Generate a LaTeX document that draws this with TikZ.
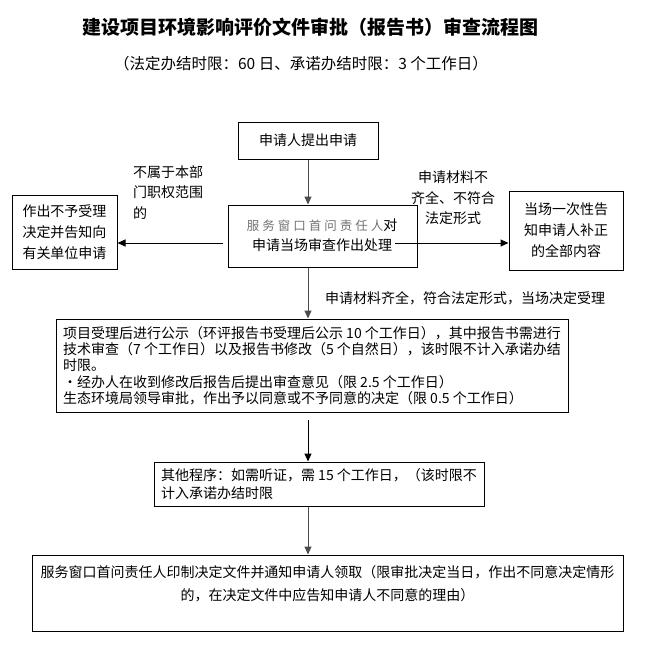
\documentclass[tikz,border=0pt]{standalone}
\usepackage{fontspec}
\setmainfont{Noto Sans CJK SC}
\newfontfamily\spacedfont[LetterSpace=24]{Noto Sans CJK SC}
\usetikzlibrary{arrows.meta}
\begin{document}
\begin{tikzpicture}[x=1pt,y=-1pt,
  box/.style={draw=black, line width=1pt, inner sep=0pt, font=\fontsize{14}{20}\selectfont},
  lbl/.style={inner sep=0pt, font=\fontsize{14}{20.5}\selectfont},
  arr/.style={line width=1pt, -{Triangle[length=8pt,width=7pt]}},
  garr/.style={arr, draw=black!70}]
\fill[white] (0,0) rectangle (647,648);
\useasboundingbox (0,0) rectangle (647,648);

\node[inner sep=0pt, font=\fontsize{19}{19}\selectfont\bfseries] (title) at (310,27) {建设项目环境影响评价文件审批（报告书）审查流程图};
\node[inner sep=0pt, font=\fontsize{15.5}{15.5}\selectfont] (sub) at (301,64) {（法定办结时限：60 日、承诺办结时限：3 个工作日）};

\node[box, minimum width=140pt, minimum height=37pt] (b1) at (308,140.5) {申请人提出申请};

\node[box, minimum width=189pt, minimum height=62pt] (b2) at (322.5,236) {};
\node[lbl, align=center, font=\fontsize{14}{20}\selectfont] (b2t) at (322,235) {{\spacedfont\fontsize{12.5}{20}\selectfont\color{black!55}服务窗口首问责任人}对\\申请当场审查作出处理};

\node[box, minimum width=105pt, minimum height=74pt, align=left, font=\fontsize{14}{21}\selectfont] (lb) at (64.5,232) {作出不予受理\\决定并告知向\\有关单位申请};
\node[box, minimum width=114pt, minimum height=79pt, align=center, font=\fontsize{14}{21}\selectfont] (rb) at (566,230.5) {当场一次性告\\知申请人补正\\的全部内容};

\node[lbl, align=left, anchor=west] (ll) at (133,192.5) {不属于本部\\门职权范围\\的};
\node[lbl, align=center] (rl) at (453,198) {申请材料不\\齐全、不符合\\法定形式};
\node[lbl, anchor=west] (al) at (325,298) {申请材料齐全，符合法定形式，当场决定受理};

\node[box, minimum width=512pt, minimum height=93pt, align=left, font=\fontsize{14}{16.3}\selectfont] (b3) at (312,365.5) {项目受理后进行公示（环评报告书受理后公示 10 个工作日），其中报告书需进行\\技术审查（7 个工作日）以及报告书修改（5 个自然日），该时限不计入承诺办结\\时限。\\·经办人在收到修改后报告后提出审查意见（限 2.5 个工作日）\\生态环境局领导审批，作出予以同意或不予同意的决定（限 0.5 个工作日）};

\node[box, minimum width=330pt, minimum height=44pt, align=left, font=\fontsize{14}{18}\selectfont] (b4) at (319,484) {其他程序：如需听证，需 15 个工作日，（该时限不\\计入承诺办结时限};

\node[box, minimum width=591pt, minimum height=76pt] (bb) at (327.5,593) {};
\node[lbl, align=center, font=\fontsize{14}{23}\selectfont] (bbt) at (327.5,583.5) {服务窗口首问责任人印制决定文件并通知申请人领取（限审批决定当日，作出不同意决定情形\\的，在决定文件中应告知申请人不同意的理由）};

\draw[garr] (b1.south) -- (b1.south |- b2.north);
\draw[garr] (b2.south -| b1.south) -- (b3.north -| b1.south);
\draw[arr, shorten <=7pt] (b3.south -| b1.south) -- (b4.north -| b1.south);
\draw[garr] (b4.south -| b1.south) -- (bb.north -| b1.south);
\coordinate (ls) at (223,243);
\draw[arr] (ls) -- (ls -| lb.east);
\coordinate (rs) at (395,243);
\draw[arr] (rs) -- (rs -| rb.west);
\end{tikzpicture}
\end{document}
